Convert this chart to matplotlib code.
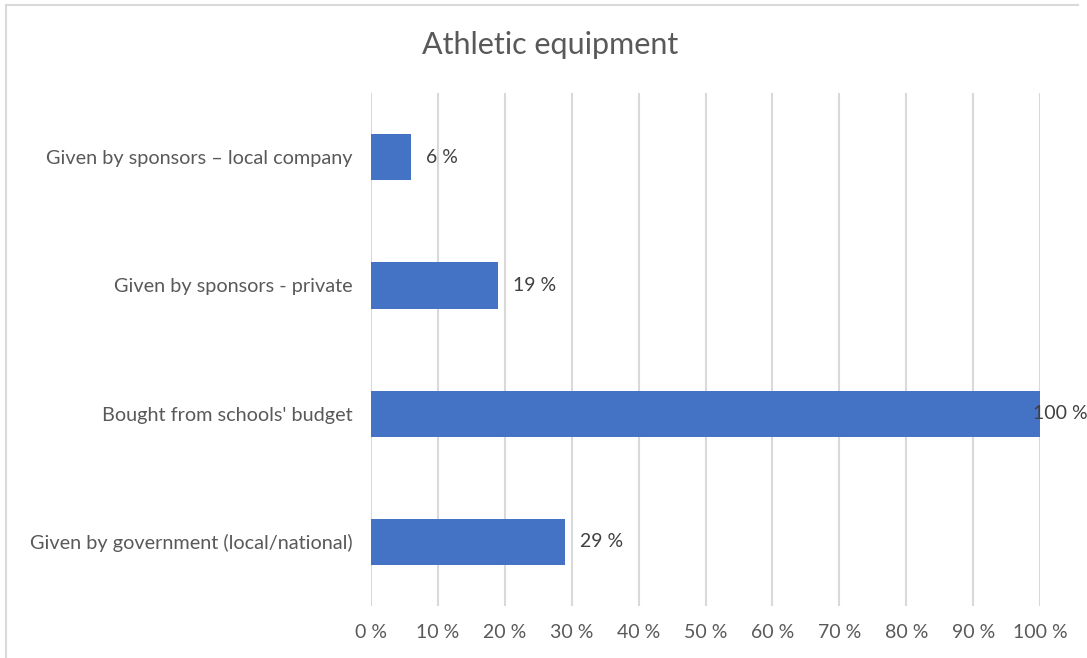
import matplotlib
matplotlib.use("Agg")
import matplotlib.pyplot as plt
from matplotlib.lines import Line2D

plt.rcParams["font.family"] = ["Lato", "DejaVu Sans"]

# bar chart data, top to bottom
categories = ["Given by sponsors \u2013 local company",
              "Given by sponsors - private",
              "Bought from schools' budget",
              "Given by government (local/national)"]
values = [6, 19, 100, 29]
xticks = [0, 10, 20, 30, 40, 50, 60, 70, 80, 90, 100]

BAR = "#4472C4"
TXT = "#595959"
GRID = "#D9D9D9"

fig = plt.figure(figsize=(10.87, 6.58), dpi=100)
ax = fig.add_axes([0.3413, 0.079, 0.6155, 0.7795])

ypos = list(range(len(categories)))[::-1]
ax.barh(ypos, values, height=0.36, color=BAR, zorder=3)

for y, v in zip(ypos, values):
    off = 11 if v < 100 else -5
    ax.annotate(f"{v} %", (v, y), xytext=(off, 0), textcoords="offset points",
                ha="left", va="center", fontsize=14, color="#404040", zorder=4)

ax.set_xlim(0, 100)
ax.set_ylim(-0.5, len(categories) - 0.5)
ax.set_xticks(xticks)
ax.set_xticklabels([f"{t} %" for t in xticks], fontsize=14, color=TXT)
ax.set_yticks(ypos)
ax.set_yticklabels(categories, fontsize=14.3, color=TXT)
ax.tick_params(axis="x", length=0, pad=13)
ax.tick_params(axis="y", length=0, pad=13)
ax.grid(axis="x", color=GRID, lw=1.5, zorder=0)
for s in ax.spines.values():
    s.set_visible(False)

fig.text(0.506, 0.932, "Athletic equipment", ha="center", va="center",
         fontsize=22, color=TXT)

# light frame along the top and left edges
fx0, fx1, fy = 6 / 1087, 1078 / 1087, 1 - 5 / 658
fig.lines.append(Line2D([fx0, fx1], [fy, fy], transform=fig.transFigure,
                        color="#D9D9D9", lw=1.5))
fig.lines.append(Line2D([fx0, fx0], [0, fy], transform=fig.transFigure,
                        color="#D9D9D9", lw=1.5))

fig.savefig("out.png", dpi=100)
